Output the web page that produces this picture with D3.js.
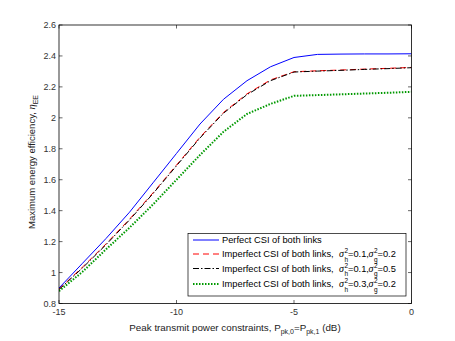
<!DOCTYPE html>
<html>
<head>
<meta charset="utf-8">
<script src="https://cdn.jsdelivr.net/npm/d3@7"></script>
<style>
body { margin: 0; background: #fff; }
svg text { font-family: "Liberation Sans", Arial, sans-serif; }
</style>
</head>
<body>
<script>
// peak power (dB)
const xs = [-15,-14,-13,-12,-11,-10,-9,-8,-7,-6,-5,-4,-3,-2,-1,0];
const perfect = [0.90,1.06,1.22,1.39,1.58,1.77,1.96,2.12,2.24,2.33,2.39,2.41,2.412,2.413,2.413,2.414];
const imp1 = [0.893,1.035,1.185,1.345,1.515,1.695,1.875,2.035,2.155,2.245,2.298,2.304,2.309,2.315,2.32,2.326];
const imp2 = [0.89,1.03,1.18,1.34,1.51,1.69,1.87,2.03,2.15,2.24,2.296,2.302,2.307,2.313,2.318,2.324];
const imp3 = [0.88,1.005,1.15,1.29,1.44,1.60,1.76,1.91,2.025,2.09,2.142,2.147,2.152,2.157,2.162,2.168];
const xTicks = [-15,-10,-5,0];
const yTicks = [0.8,1,1.2,1.4,1.6,1.8,2,2.2,2.4,2.6];

const series = [
  {name: "perfect", vals: perfect, color: "#0000ff", width: 1, dash: null},
  {name: "imp1", vals: imp1, color: "#ff0000", width: 1, dash: "6,4", s2h: "0.1", s2g: "0.2"},
  {name: "imp2", vals: imp2, color: "#000000", width: 1, dash: "6,2,1.5,2", s2h: "0.1", s2g: "0.5"},
  {name: "imp3", vals: imp3, color: "#009900", width: 2, dash: "1.5,1.5", s2h: "0.3", s2g: "0.2"}
];

const w = 455, h = 341;
const mL = 59, mR = 411.5, mT = 25, mB = 303.5;

const svg = d3.select("body").append("svg").attr("width", w).attr("height", h);

const x = d3.scaleLinear().domain([-15, 0]).range([mL, mR]);
const y = d3.scaleLinear().domain([0.8, 2.6]).range([mB, mT]);

const fmt = d => (Math.round(d * 10) / 10).toString();

// ticks (inside, all four sides)
const g = svg.append("g").attr("stroke", "#000").attr("stroke-width", 0.6);
xTicks.forEach(t => {
  g.append("line").attr("x1", x(t)).attr("x2", x(t)).attr("y1", mB).attr("y2", mB - 3.5);
  g.append("line").attr("x1", x(t)).attr("x2", x(t)).attr("y1", mT).attr("y2", mT + 3.5);
});
yTicks.forEach(t => {
  g.append("line").attr("x1", mL).attr("x2", mL + 3.5).attr("y1", y(t)).attr("y2", y(t));
  g.append("line").attr("x1", mR).attr("x2", mR - 3.5).attr("y1", y(t)).attr("y2", y(t));
});

svg.append("g").selectAll("text").data(xTicks).enter().append("text")
  .attr("x", d => x(d)).attr("y", mB + 11)
  .attr("text-anchor", "middle").attr("font-size", 9).attr("fill", "#333")
  .text(d => d);
svg.append("g").selectAll("text").data(yTicks).enter().append("text")
  .attr("x", mL - 3).attr("y", d => y(d) + 3)
  .attr("text-anchor", "end").attr("font-size", 9).attr("fill", "#333")
  .text(fmt);

// lines
const line = d3.line().x((d, i) => x(xs[i])).y(d => y(d));
svg.append("clipPath").attr("id", "clip").append("rect")
  .attr("x", mL).attr("y", mT).attr("width", mR - mL).attr("height", mB - mT);
series.forEach(s => {
  svg.append("path").datum(s.vals)
    .attr("clip-path", "url(#clip)")
    .attr("fill", "none").attr("stroke", s.color)
    .attr("stroke-width", s.width)
    .attr("stroke-dasharray", s.dash)
    .attr("d", line);
});

// axes box
svg.append("rect").attr("x", mL).attr("y", mT).attr("width", mR - mL).attr("height", mB - mT)
  .attr("fill", "none").attr("stroke", "#000").attr("stroke-width", 0.8);

// legend
const lg = svg.append("g");
lg.append("rect").attr("x", 188).attr("y", 233.5).attr("width", 218).attr("height", 62.5)
  .attr("fill", "#fff").attr("stroke", "#000").attr("stroke-width", 0.7);
const rowsY = [240, 254, 268.5, 284];
const fs = 9.3;
const sigX = [339, 368.5];
series.forEach((s, i) => {
  const ry = rowsY[i];
  lg.append("line").attr("x1", 193).attr("x2", 219).attr("y1", ry).attr("y2", ry)
    .attr("stroke", s.color).attr("stroke-width", s.width).attr("stroke-dasharray", s.dash);
  const t = lg.append("text").attr("x", 222).attr("y", ry + 3.3).attr("font-size", fs).attr("fill", "#000");
  if (!s.s2h) {
    t.text("Perfect CSI of both links");
    return;
  }
  t.append("tspan").text("Imperfect CSI of both links,");
  const sig = (x0, sub, val) => {
    t.append("tspan").attr("x", x0).attr("y", ry + 3.3)
      .attr("font-family", "Liberation Serif, serif").attr("font-style", "italic")
      .attr("font-size", 10).text("σ");
    t.append("tspan").attr("x", x0 + 5.5).attr("y", ry - 0.8).attr("font-size", 6.5).text("2");
    t.append("tspan").attr("x", x0 + 5.5).attr("y", ry + 7.8).attr("font-size", 6.5).text(sub);
    t.append("tspan").attr("x", x0 + 9).attr("y", ry + 3.3).text("=" + val);
  };
  sig(sigX[0], "h", s.s2h + ",");
  sig(sigX[1], "g", s.s2g);
});

// y label
const yl = svg.append("text").attr("transform", "translate(35,162) rotate(-90)")
  .attr("text-anchor", "middle").attr("font-size", 9.5).attr("fill", "#222");
yl.append("tspan").text("Maximum energy efficiency, ");
yl.append("tspan").attr("font-family", "Liberation Serif, serif").attr("font-style", "italic").attr("font-size", 10.5).text("η");
yl.append("tspan").attr("font-size", 7).attr("dy", 3).text("EE");

// x label
const xl = svg.append("text").attr("x", 235).attr("y", 331)
  .attr("text-anchor", "middle").attr("font-size", 9.8).attr("fill", "#222");
xl.append("tspan").text("Peak transmit power constraints, P");
xl.append("tspan").attr("font-size", 7).attr("dy", 3).text("pk,0");
xl.append("tspan").attr("dy", -3).text("=P");
xl.append("tspan").attr("font-size", 7).attr("dy", 3).text("pk,1");
xl.append("tspan").attr("dy", -3).text(" (dB)");
</script>
</body>
</html>
